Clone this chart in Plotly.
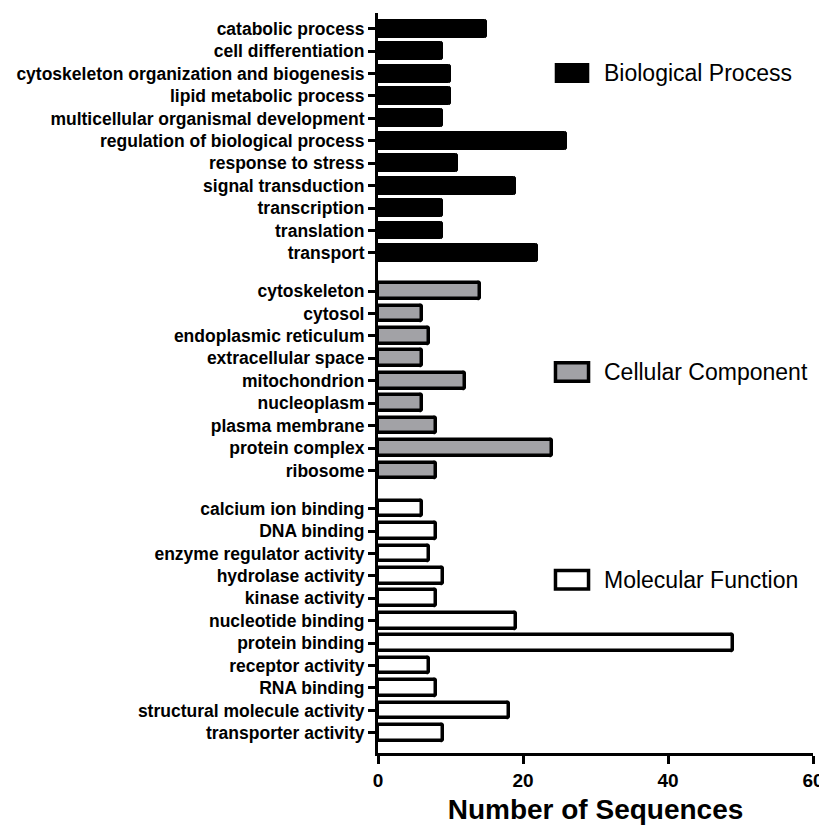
import plotly.graph_objs as go

# GO term counts
bp_terms = ['catabolic process', 'cell differentiation', 'cytoskeleton organization and biogenesis',
            'lipid metabolic process', 'multicellular organismal development',
            'regulation of biological process', 'response to stress', 'signal transduction',
            'transcription', 'translation', 'transport']
bp_counts = [15, 9, 10, 10, 9, 26, 11, 19, 9, 9, 22]

cc_terms = ['cytoskeleton', 'cytosol', 'endoplasmic reticulum', 'extracellular space',
            'mitochondrion', 'nucleoplasm', 'plasma membrane', 'protein complex', 'ribosome']
cc_counts = [14, 6, 7, 6, 12, 6, 8, 24, 8]

mf_terms = ['calcium ion binding', 'DNA binding', 'enzyme regulator activity', 'hydrolase activity',
            'kinase activity', 'nucleotide binding', 'protein binding', 'receptor activity',
            'RNA binding', 'structural molecule activity', 'transporter activity']
mf_counts = [6, 8, 7, 9, 8, 19, 49, 7, 8, 18, 9]

group_names = ['Biological Process', 'Cellular Component', 'Molecular Function']
x_ticks = [0, 20, 40, 60]

FONT = 'Liberation Sans'
GAP = 1.7  # space between groups, in rows

# fill, outline width, bar width
groups = [(bp_terms, bp_counts, 'black', 1, 0.8),
          (cc_terms, cc_counts, '#a2a2a6', 3.5, 0.7),
          (mf_terms, mf_counts, 'white', 3.5, 0.7)]

traces = []
tickvals, ticktext = [], []
start = 0
for (terms, counts, fill, lw, bw), name in zip(groups, group_names):
    pos = [start + i for i in range(len(terms))]
    tickvals += pos
    ticktext += terms
    traces.append(go.Bar(
        y=pos, x=counts, orientation='h', name=name, width=bw,
        marker=dict(color=fill, line=dict(color='black', width=lw), cornerradius=2),
        showlegend=False
    ))
    start = pos[-1] + GAP

fig = go.Figure(data=traces)

# legend keys drawn by hand, spread beside each group as in the original
legend_y = [0.919, 0.515, 0.234]
for (terms, counts, fill, lw, bw), name, ly in zip(groups, group_names, legend_y):
    fig.add_shape(type='rect', xref='paper', yref='paper',
                  x0=0.408, x1=0.484, y0=ly - 0.0125, y1=ly + 0.0125,
                  fillcolor=fill, line=dict(color='black', width=max(lw, 1.5)))
    fig.add_annotation(text=name, xref='paper', yref='paper', x=0.516, y=ly,
                       xanchor='left', yanchor='middle', showarrow=False,
                       font=dict(family=FONT, size=23, color='black'))

# page body adds an 8px margin, so the figure is 8px smaller and margins shifted
fig.update_layout(
    width=819, height=822,
    margin=dict(l=370, r=14, t=5, b=77),
    plot_bgcolor='white', paper_bgcolor='white',
    bargap=0,
    xaxis=dict(
        range=[0, 60], tickvals=x_ticks, showgrid=False, zeroline=False,
        automargin=False,
        showline=True, linecolor='black', linewidth=3,
        ticks='outside', ticklen=8, tickwidth=2.5, tickcolor='black',
        tickfont=dict(family=FONT, size=19, color='black', weight='bold'),
        title=dict(text='Number of Sequences', standoff=10,
                   font=dict(family=FONT, size=28, color='black', weight='bold'))
    ),
    yaxis=dict(
        range=[start - GAP + 0.9, -0.7], tickvals=tickvals, ticktext=ticktext,
        showgrid=False, zeroline=False, automargin=False,
        showline=True, linecolor='black', linewidth=3,
        ticks='outside', ticklen=7, tickwidth=2.5, tickcolor='black',
        tickfont=dict(family=FONT, size=17.5, color='black', weight='bold')
    )
)

fig.write_html("out.html")
